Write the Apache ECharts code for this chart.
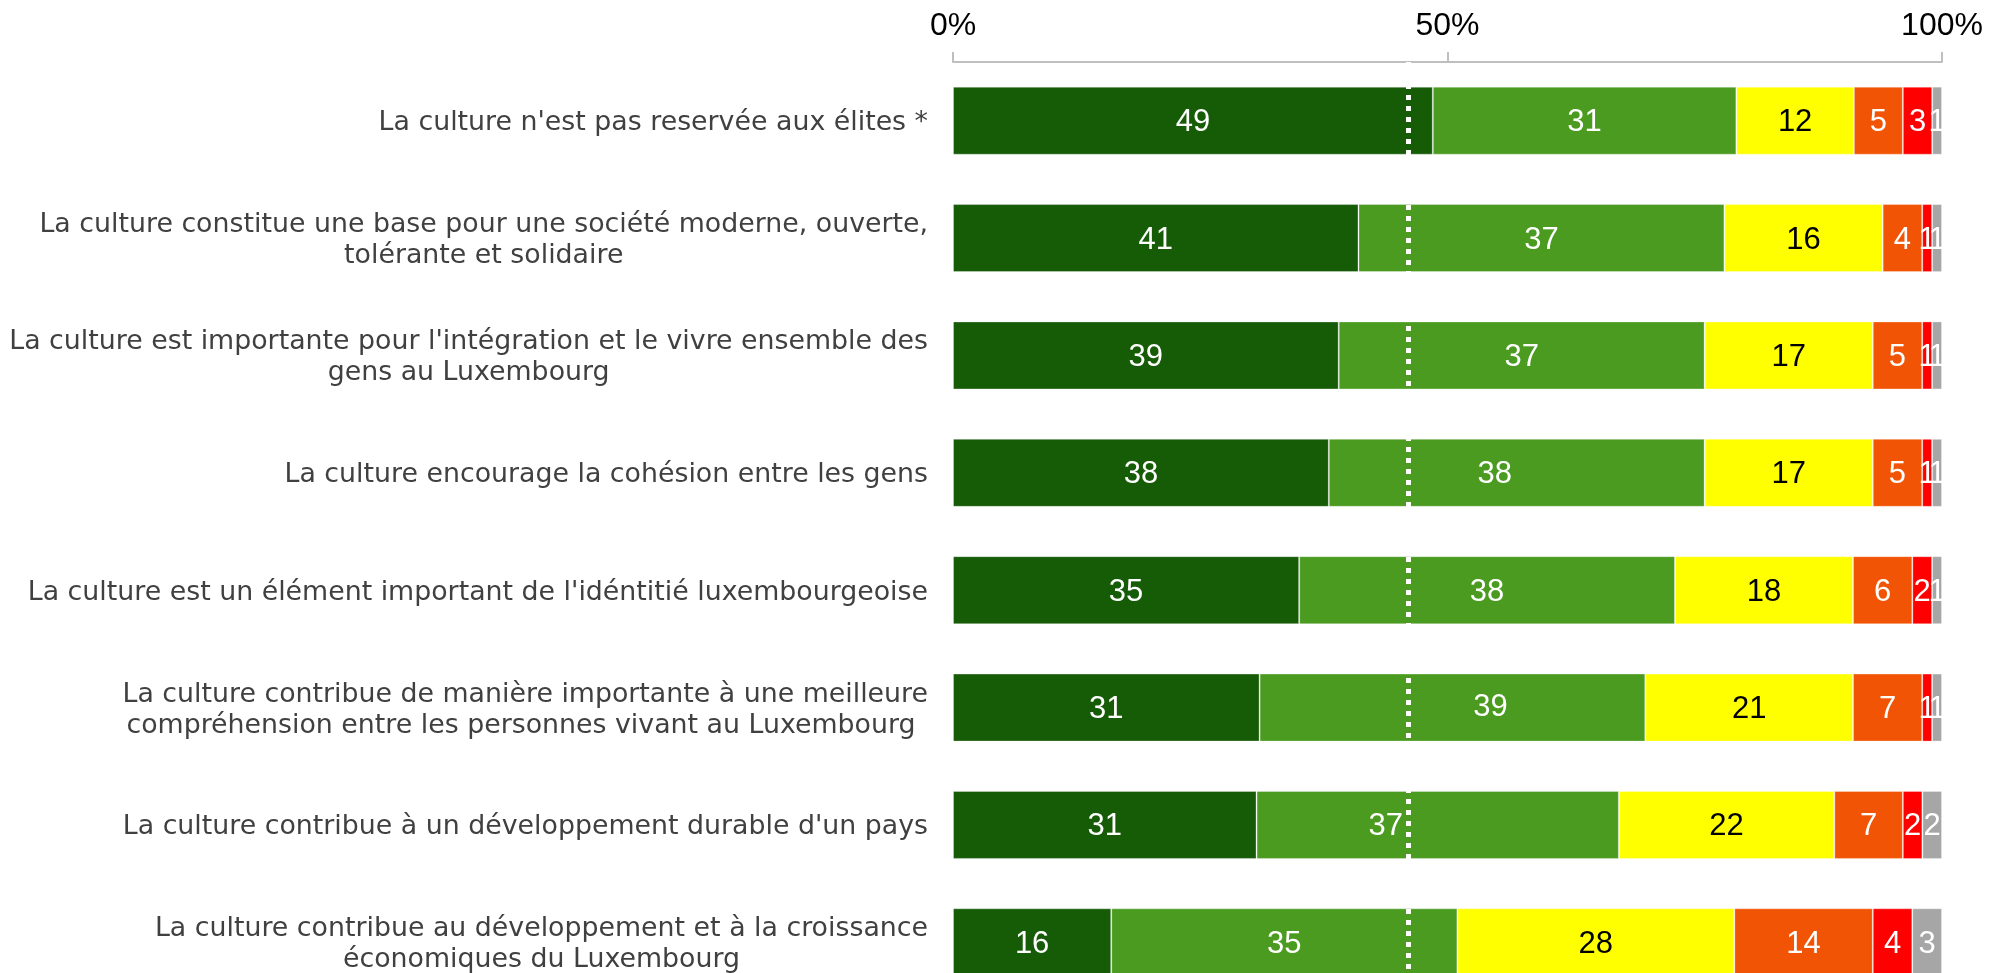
<!DOCTYPE html>
<html><head><meta charset="utf-8">
<script src="https://cdn.jsdelivr.net/npm/echarts@6/dist/echarts.min.js"></script>
<style>html,body{margin:0;padding:0;background:#fff}#c{width:2001px;height:973px}</style>
</head><body><div id="c"></div>
<script>
const categories = [
  "La culture n'est pas reservée aux élites *",
  "La culture constitue une base pour une société moderne, ouverte,\ntolérante et solidaire",
  "La culture est importante pour l'intégration et le vivre ensemble des\ngens au Luxembourg",
  "La culture encourage la cohésion entre les gens",
  "La culture est un élément important de l'idéntitié luxembourgeoise",
  "La culture contribue de manière importante à une meilleure\ncompréhension entre les personnes vivant au Luxembourg ",
  "La culture contribue à un développement durable d'un pays",
  "La culture contribue au développement et à la croissance\néconomiques du Luxembourg"
];
const seriesNames = ["Tout à fait d'accord", "Plutôt d'accord", "Ni d'accord ni pas d'accord", "Plutôt pas d'accord", "Pas du tout d'accord", "Sans réponse"];
const darkGreen  = [49, 41, 39, 38, 35, 31, 31, 16];
const lightGreen = [31, 37, 37, 38, 38, 39, 37, 35];
const yellow     = [12, 16, 17, 17, 18, 21, 22, 28];
const orange     = [5, 4, 5, 5, 6, 7, 7, 14];
const red        = [3, 1, 1, 1, 2, 1, 2, 4];
const grey       = [1, 1, 1, 1, 1, 1, 2, 3];
const tickValues = [0, 50, 100];
const referenceLine = 46;

const values = [darkGreen, lightGreen, yellow, orange, red, grey];
const colors = ['#165C07', '#4A9B20', '#FFFF00', '#F15405', '#FF0000', '#A6A6A6'];
const labelColors = ['#fff', '#fff', '#000', '#fff', '#fff', '#fff'];
// manual label nudges (px) in light green series, as in the original
const labelNudge = {3: [-22, 2], 5: [38, 0], 6: [-52, 2]};

const rowSums = categories.map((_, i) => values.reduce((s, a) => s + a[i], 0));

const series = values.map((arr, k) => {
  const s = {
    name: seriesNames[k],
    type: 'bar',
    stack: 'total',
    barWidth: 68,
    data: arr.map((v, i) => {
      const item = {value: v / rowSums[i] * 100};
      if (k === 1 && labelNudge[i]) item.label = {offset: labelNudge[i]};
      return item;
    }),
    itemStyle: {color: colors[k], borderColor: 'rgba(255,255,255,0.3)', borderWidth: 1},
    label: {
      show: true, position: 'inside', color: labelColors[k], offset: [0, 2],
      fontSize: 31, fontFamily: 'Liberation Sans, Arial, sans-serif',
      formatter: p => String(arr[p.dataIndex])
    },
    emphasis: {disabled: true},
    silent: true
  };
  if (k === values.length - 1) {
    s.z = 5;
    s.markLine = {
      silent: true, symbol: 'none', animation: false,
      label: {show: false},
      lineStyle: {color: '#ffffff', width: 5, type: [5, 6], cap: 'butt'},
      data: [{xAxis: referenceLine}]
    };
  }
  return s;
});

const chart = echarts.init(document.getElementById('c'), null, {renderer: 'canvas'});
chart.setOption({
  animation: false,
  backgroundColor: '#ffffff',
  grid: {left: 953, right: 59, top: 62, height: 939, containLabel: false, outerBoundsMode: 'none'},
  xAxis: {
    type: 'value', position: 'top', min: 0, max: 100, interval: 50,
    axisLine: {show: true, lineStyle: {color: '#BFBFBF', width: 2}},
    axisTick: {show: true, length: 10, lineStyle: {color: '#BFBFBF', width: 2}},
    splitLine: {show: false},
    axisLabel: {
      margin: 20, fontSize: 32, color: '#000', fontFamily: 'Liberation Sans, Arial, sans-serif',
      formatter: v => tickValues.includes(v) ? v + '%' : ''
    }
  },
  yAxis: {
    type: 'category', inverse: true, data: categories,
    axisLine: {show: false}, axisTick: {show: false},
    axisLabel: {
      interval: 0, margin: 25, align: 'right', padding: [5, 0, 0, 0],
      formatter: v => v.split('\n').map(s => '{c|' + s + '}').join('\n'),
      rich: {c: {align: 'center', fontSize: 26.8, lineHeight: 31, color: '#404040', fontFamily: 'DejaVu Sans'}}
    }
  },
  series: series
});
</script></body></html>
